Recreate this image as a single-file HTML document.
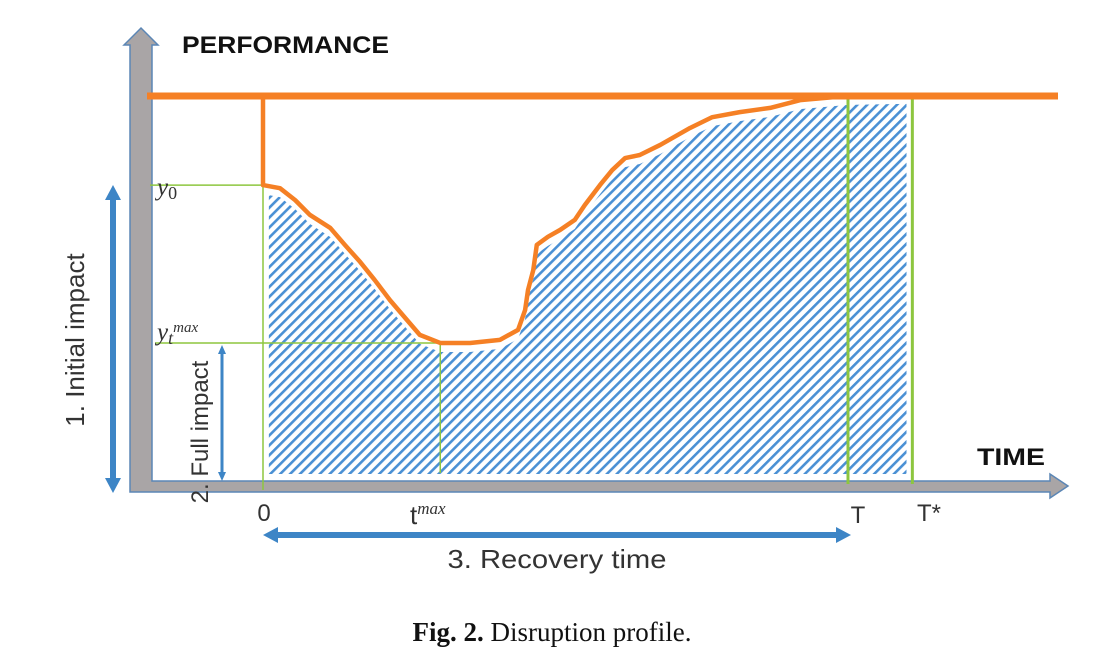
<!DOCTYPE html>
<html><head><meta charset="utf-8"><style>
body{margin:0;background:#fff;width:1104px;height:664px;overflow:hidden}
</style></head><body>
<svg id="c" width="1104" height="664" viewBox="0 0 1104 664" font-family="Liberation Sans, sans-serif">
<defs>
<pattern id="hatch" patternUnits="userSpaceOnUse" width="7" height="7" patternTransform="rotate(45)">
<rect x="0" y="0" width="2.6" height="7" fill="#4a90d4"/>
</pattern>
</defs>
<g id="plot"></g>
</svg>
<script>
// data (time: 0..100 = 0..T ; performance: 0..100)
const curveT=[0,2.9,5.5,8.0,11.5,14.0,16.6,19.1,21.7,24.3,26.8,30.3,35.4,40.5,43.6,44.8,45.3,46.2,46.8,48.7,50.8,53.3,55.0,57.6,59.7,61.9,64.4,67.9,73.0,76.8,81.5,86.7,91.8,100];
const curveP=[76.4,75.6,72.5,68.7,65.3,60.9,56.5,51.8,46.6,42.0,37.6,35.5,35.5,36.3,38.9,44.0,49.2,54.4,60.9,63.0,64.8,67.4,71.2,76.4,80.3,83.4,84.2,86.8,91.2,94.0,95.3,96.4,98.4,99.5];
const tMax=30.3, yTmax=35.5, y0=76.4, Tend=100, Tstar=111;
const sx=t=>263+t*5.85, sy=p=>480-p*3.86;
const g=document.getElementById('plot');
const NS='http://www.w3.org/2000/svg';
function mk(tag,attrs,name,parent){const e=document.createElementNS(NS,tag);for(const k in attrs)e.setAttribute(k,attrs[k]);


(parent||g).appendChild(e);return e;}
// hatched area
let hp='M'+sx(1)+','+(sy(y0)+10);
for(let i=1;i<curveT.length;i++)hp+=' L'+sx(curveT[i])+','+(sy(curveP[i])+9);
hp+=' L'+sx(Tstar-1)+','+(sy(99)+6)+' L'+sx(Tstar-1)+','+(sy(0)-6)+' L'+sx(1)+','+(sy(0)-6)+'Z';
mk('path',{d:hp,fill:'url(#hatch)'},'resilience-area');
// axes
mk('path',{d:'M130,492 L130,45 L124,45 L141,28 L158,45 L152,45 L152,481 L1050,481 L1050,474 L1068,486 L1050,498 L1050,492 Z',fill:'#a9a5a6',stroke:'#5b86b5','stroke-width':1.5},'axes');
mk('rect',{x:136,y:45,width:11,height:436,fill:'#a9a5a6'},'y-axis');
// green guide lines
const gl=[[150,sy(y0),sx(0),sy(y0),'y0-guide'],[155,sy(yTmax),sx(tMax),sy(yTmax),'ytmax-guide'],[sx(0),sy(y0),sx(0),490,'t0-guide'],[sx(tMax),sy(yTmax),sx(tMax),473,'tmax-guide'],[sx(Tend),94,sx(Tend),484,'T-guide'],[sx(Tstar),96,sx(Tstar),484,'Tstar-guide']];
gl.forEach(l=>mk('line',{x1:l[0],y1:l[1],x2:l[2],y2:l[3],stroke:'#8dc63f','stroke-width':l[4].includes('T')?3:1.5},l[4]));
// baseline performance
mk('line',{x1:147,y1:sy(100)+2,x2:1058,y2:sy(100)+2,stroke:'#f58025','stroke-width':7},'baseline-performance');
// curve
let cp='M'+sx(0)+','+(sy(100)+2);
for(let i=0;i<curveT.length;i++)cp+=' L'+sx(curveT[i])+','+sy(curveP[i]);
mk('path',{d:cp,fill:'none',stroke:'#f58025','stroke-width':4.5,'stroke-linejoin':'round'},'performance-curve');
// blue arrows
mk('path',{d:'M113,185 L121,200 L116,200 L116,478 L121,478 L113,493 L105,478 L110,478 L110,200 L105,200 Z',fill:'#3d85c6'},'initial-impact-arrow');
mk('path',{d:'M222,345 L226,354 L223.5,354 L223.5,472 L226,472 L222,481 L218,472 L220.5,472 L220.5,354 L218,354 Z',fill:'#3d85c6'},'full-impact-arrow');
mk('path',{d:'M263,535 L278,527 L278,532 L836,532 L836,527 L851,535 L836,543 L836,538 L278,538 L278,543 Z',fill:'#3d85c6'},'recovery-time-arrow');
// texts
function tx(s,attrs,name){const e=mk('text',attrs,name);e.textContent=s;return e;}
tx('PERFORMANCE',{x:182,y:53,'font-size':24,'font-weight':'bold',fill:'#111','textLength':207,'lengthAdjust':'spacingAndGlyphs'},'y-axis-title');
tx('TIME',{x:977,y:465,'font-size':24,'font-weight':'bold',fill:'#111','textLength':68,'lengthAdjust':'spacingAndGlyphs'},'x-axis-title');
tx('1. Initial impact',{x:0,y:0,'font-size':26,fill:'#333','text-anchor':'middle',transform:'translate(84,340) rotate(-90)'},'initial-impact-label');
tx('2. Full impact',{x:0,y:0,'font-size':24,fill:'#333','text-anchor':'middle',transform:'translate(208,432) rotate(-90)'},'full-impact-label');
const ys=tx('',{x:157,y:195,'font-size':25,'font-style':'italic','font-family':'Liberation Serif, serif',fill:'#333'},'y0-label');
ys.innerHTML='y<tspan font-size="18" dy="4" font-style="normal">0</tspan>';
const ym=tx('',{x:157,y:340,'font-size':25,'font-style':'italic','font-family':'Liberation Serif, serif',fill:'#333'},'ytmax-label');
ym.innerHTML='y<tspan font-size="18" dy="4">t</tspan><tspan font-size="15" dy="-12">max</tspan>';
tx('0',{x:264,y:521,'font-size':24,fill:'#333','text-anchor':'middle'},'tick-0');
const tm=tx('',{x:410,y:524,'font-size':26,fill:'#333'},'tick-tmax');
tm.innerHTML='t<tspan font-size="17" dy="-10" font-style="italic" font-family="Liberation Serif, serif">max</tspan>';
tx('T',{x:858,y:523,'font-size':24,fill:'#333','text-anchor':'middle'},'tick-T');
tx('T*',{x:929,y:521,'font-size':24,fill:'#333','text-anchor':'middle'},'tick-Tstar');
tx('3. Recovery time',{x:557,y:568,'font-size':26,fill:'#333','text-anchor':'middle','textLength':219,'lengthAdjust':'spacingAndGlyphs'},'recovery-time-label');
const cap=tx('',{x:552,y:641,'font-size':27,'font-family':'Liberation Serif, serif',fill:'#111','text-anchor':'middle'},'figure-caption');
cap.innerHTML='<tspan font-weight="bold">Fig. 2.</tspan>  Disruption profile.';
</script>
</body></html>
